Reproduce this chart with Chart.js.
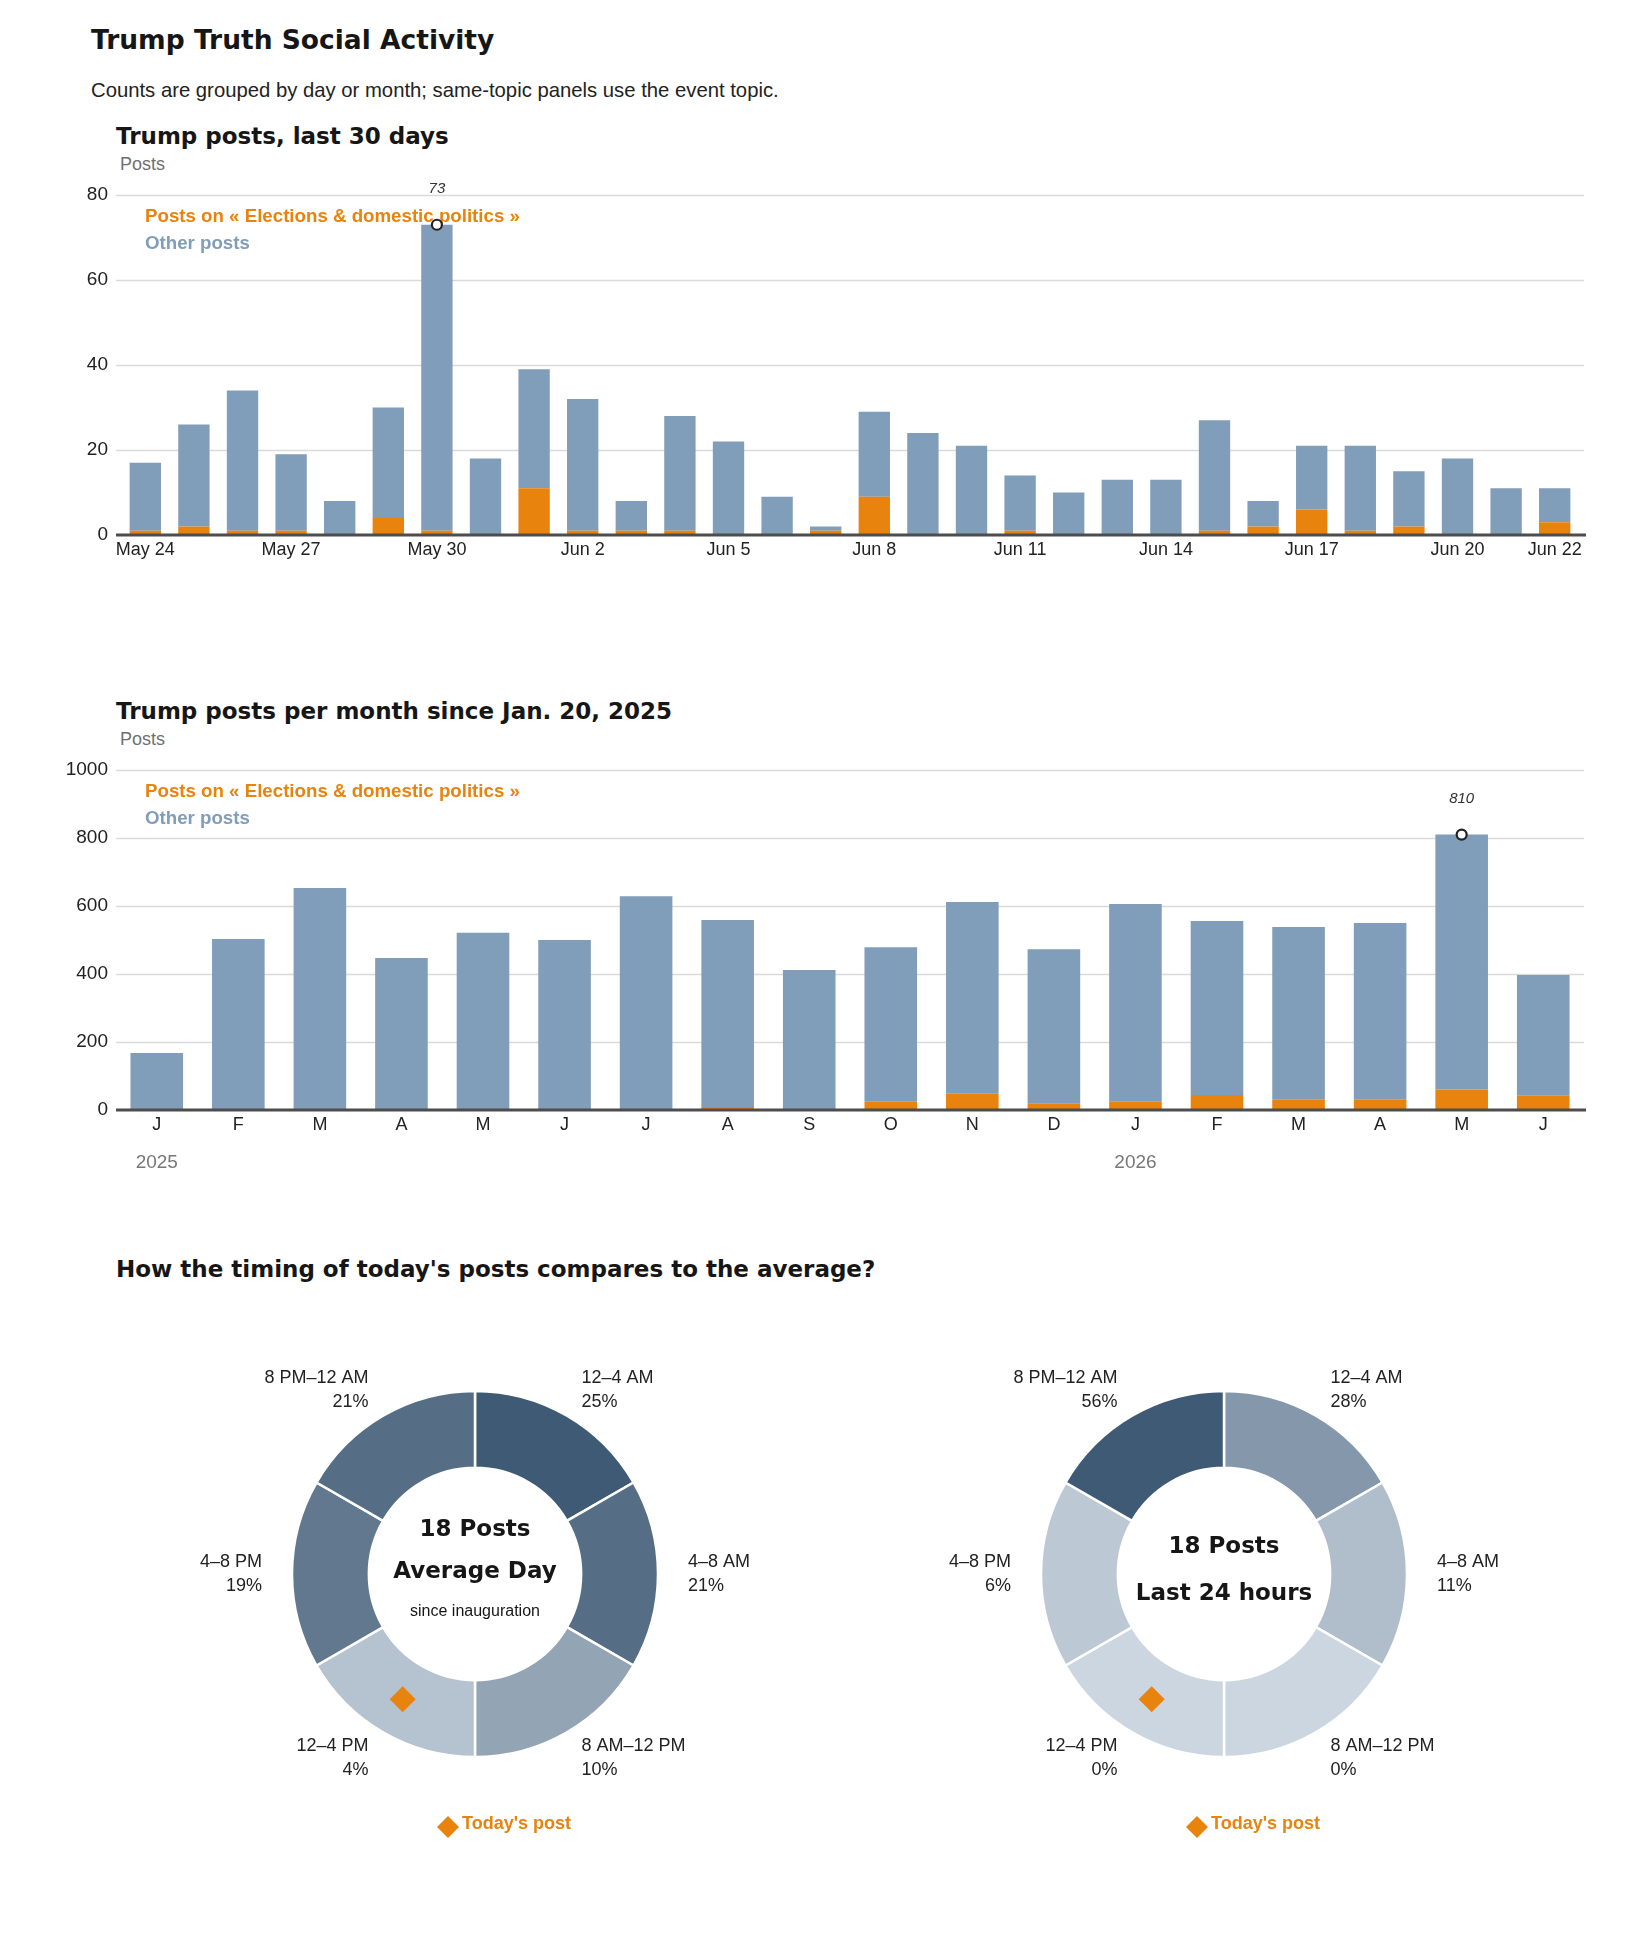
<!DOCTYPE html>
<html>
<head>
<meta charset="utf-8">
<title>Trump Truth Social Activity</title>
<script src="https://cdn.jsdelivr.net/npm/chart.js@4.4.1/dist/chart.umd.min.js"></script>
<style>
  html, body { margin: 0; padding: 0; background: #fff; }
  body { width: 1650px; height: 1950px; position: relative; overflow: hidden;
         font-family: "Liberation Sans", Arial, sans-serif; color: #1a1a1a; }
  .txt { position: absolute; white-space: nowrap; line-height: 1; margin: 0; }
  .head { font-family: "DejaVu Sans", sans-serif; font-weight: bold; color: #161616; }
  .axis-title { font-size: 18px; color: #707070; }
  canvas { position: absolute; left: 0; }
</style>
</head>
<body>

<h1 class="txt head" style="left:91px; top:27px; font-size:26.5px;">Trump Truth Social Activity</h1>
<p class="txt" style="left:91px; top:80.3px; font-size:20.3px; color:#222;">Counts are grouped by day or month; same-topic panels use the event topic.</p>

<h2 class="txt head" style="left:116px; top:124.5px; font-size:23px;">Trump posts, last 30 days</h2>
<div class="txt axis-title" style="left:120px; top:155px;">Posts</div>
<canvas id="daily" width="1650" height="400" style="top:180px;"></canvas>

<h2 class="txt head" style="left:116px; top:700px; font-size:23px;">Trump posts per month since Jan. 20, 2025</h2>
<div class="txt axis-title" style="left:120px; top:730px;">Posts</div>
<canvas id="monthly" width="1650" height="440" style="top:750px;"></canvas>

<h2 class="txt head" style="left:116px; top:1258px; font-size:23px;">How the timing of today's posts compares to the average?</h2>
<canvas id="donut-avg" width="640" height="580" style="left:155px; top:1284px;"></canvas>
<canvas id="donut-today" width="640" height="580" style="left:904px; top:1284px;"></canvas>

<script>
const TOPIC = "Elections & domestic politics";

// daily posts, last 30 days
const DAYS = ["May 24", "May 25", "May 26", "May 27", "May 28", "May 29", "May 30", "May 31",
  "Jun 1", "Jun 2", "Jun 3", "Jun 4", "Jun 5", "Jun 6", "Jun 7", "Jun 8", "Jun 9", "Jun 10",
  "Jun 11", "Jun 12", "Jun 13", "Jun 14", "Jun 15", "Jun 16", "Jun 17", "Jun 18", "Jun 19",
  "Jun 20", "Jun 21", "Jun 22"];
const DAY_TOPIC = [1, 2, 1, 1, 0, 4, 1, 0, 11, 1, 1, 1, 0, 0, 1, 9, 0, 0, 1, 0, 0, 0, 1, 2, 6, 1, 2, 0, 0, 3];
const DAY_OTHER = [16, 24, 33, 18, 8, 26, 72, 18, 28, 31, 7, 27, 22, 9, 1, 20, 24, 21, 13, 10, 13, 13, 26, 6, 15, 20, 13, 18, 11, 8];
const DAY_TICKS = [0, 20, 40, 60, 80];

// monthly posts since inauguration
const MONTHS = ["J", "F", "M", "A", "M", "J", "J", "A", "S", "O", "N", "D", "J", "F", "M", "A", "M", "J"];
const MONTH_TOPIC = [0, 0, 0, 0, 0, 0, 0, 9, 0, 24, 48, 20, 24, 44, 30, 30, 60, 42];
const MONTH_OTHER = [168, 503, 653, 447, 521, 500, 629, 550, 412, 455, 564, 453, 582, 512, 508, 520, 750, 355];
const MONTH_TICKS = [0, 200, 400, 600, 800, 1000];
const YEARS = ["2025", "2026"];
const YEAR_START = [0, 12];

// time of day
const SLOTS = ["12–4 AM", "4–8 AM", "8 AM–12 PM", "12–4 PM", "4–8 PM", "8 PM–12 AM"];
const SLOT_SPAN = [4, 4, 4, 4, 4, 4]; // hours in each slot
const AVG_PCT = [25, 21, 10, 4, 19, 21];
const LAST24_PCT = [28, 11, 0, 0, 6, 56];
const AVG_POSTS = 18;
const LAST24_POSTS = 18;
const TODAY_SLOT = 3;

const ORANGE = "#e8830e";
const BLUE = "#809db9";
const LIGHT = [203, 214, 224];
const DARK = [63, 90, 117];
const SANS = '"Liberation Sans", Arial, sans-serif';
const HEAVY = '"DejaVu Sans", sans-serif';

Chart.defaults.font.family = SANS;
Chart.defaults.color = "#222";

// grid, baseline, legend and peak marker for the bar panels
const barDecor = {
  id: "barDecor",
  beforeDatasetsDraw(chart, args, o) {
    const { ctx, chartArea: a, scales: { y } } = chart;
    ctx.save();
    ctx.strokeStyle = "#dadada";
    ctx.lineWidth = 1.3;
    y.ticks.forEach(t => {
      if (t.value === 0) return;
      const py = Math.round(y.getPixelForValue(t.value)) + 0.5;
      ctx.beginPath();
      ctx.moveTo(a.left - o.extend, py);
      ctx.lineTo(a.right + o.extend, py);
      ctx.stroke();
    });
    ctx.restore();
  },
  afterDatasetsDraw(chart, args, o) {
    const { ctx, chartArea: a, scales: { x, y } } = chart;
    ctx.save();
    const y0 = y.getPixelForValue(0);
    ctx.fillStyle = "#4d4d4d";
    ctx.fillRect(a.left - o.extend, y0 - 1.5, a.right - a.left + 2 * o.extend + 2, 3);

    ctx.font = "bold 18.7px " + SANS;
    ctx.textAlign = "left";
    ctx.textBaseline = "alphabetic";
    ctx.fillStyle = ORANGE;
    ctx.fillText("Posts on « " + TOPIC + " »", o.legendX, a.top + 27);
    ctx.fillStyle = BLUE;
    ctx.fillText("Other posts", o.legendX, a.top + 54);

    const [topic, other] = chart.data.datasets.map(d => d.data);
    const totals = topic.map((v, i) => v + other[i]);
    const peak = totals.indexOf(Math.max(...totals));
    const px = x.getPixelForValue(peak);
    const py = y.getPixelForValue(totals[peak]);
    ctx.beginPath();
    ctx.arc(px, py, 5, 0, Math.PI * 2);
    ctx.fillStyle = "#fff";
    ctx.fill();
    ctx.lineWidth = 2.2;
    ctx.strokeStyle = "#222";
    ctx.stroke();
    ctx.font = "italic 15px " + SANS;
    ctx.textAlign = "center";
    ctx.textBaseline = "middle";
    ctx.fillStyle = "#333";
    ctx.fillText(String(totals[peak]), px, py - 36);

    if (o.years) {
      ctx.font = "19px " + SANS;
      ctx.fillStyle = "#777";
      o.years.forEach((yr, k) => {
        ctx.fillText(yr, x.getPixelForValue(o.yearAt[k]), a.bottom + 53);
      });
    }
    ctx.restore();
  }
};

function barChart(id, labels, topic, other, ticks, opt) {
  return new Chart(document.getElementById(id), {
    type: "bar",
    data: {
      labels: labels,
      datasets: [
        { label: "Posts on « " + TOPIC + " »", data: topic, backgroundColor: ORANGE },
        { label: "Other posts", data: other, backgroundColor: BLUE }
      ]
    },
    options: {
      responsive: false,
      animation: false,
      events: [],
      layout: { padding: { top: opt.padTop, right: 1650 - opt.right, bottom: 0, left: 0 } },
      datasets: { bar: { categoryPercentage: 1, barPercentage: 0.645 } },
      scales: {
        x: {
          stacked: true,
          grid: { display: false, drawTicks: false },
          border: { display: false },
          ticks: {
            autoSkip: false,
            maxRotation: 0,
            padding: 4,
            font: { size: 18 },
            color: "#222",
            callback: opt.tickLabel
          },
          afterFit(s) { s.height = opt.xHeight; s.paddingLeft = 0; s.paddingRight = 0; }
        },
        y: {
          stacked: true,
          min: 0,
          max: ticks[ticks.length - 1],
          afterBuildTicks(s) { s.ticks = ticks.map(v => ({ value: v })); },
          grid: { display: false, drawTicks: false },
          border: { display: false },
          ticks: {
            padding: opt.left - 108,
            font: { size: 19 },
            color: "#222",
            callback: v => String(v)
          },
          afterFit(s) { s.width = opt.left; s.paddingTop = 0; s.paddingBottom = 0; }
        }
      },
      plugins: {
        legend: { display: false },
        tooltip: { enabled: false },
        barDecor: { extend: opt.extend, legendX: 145, years: opt.years, yearAt: opt.yearAt }
      }
    },
    plugins: [barDecor]
  });
}

barChart("daily", DAYS, DAY_TOPIC, DAY_OTHER, DAY_TICKS, {
  padTop: 15, left: 121, right: 1579, xHeight: 45, extend: 5,
  tickLabel(v, i) { return (i % 3 === 0 || i === DAYS.length - 1) ? DAYS[i] : null; }
});

barChart("monthly", MONTHS, MONTH_TOPIC, MONTH_OTHER, MONTH_TICKS, {
  padTop: 20, left: 116, right: 1584, xHeight: 80, extend: 0,
  years: YEARS, yearAt: YEAR_START,
  tickLabel(v, i) { return MONTHS[i]; }
});

// donuts: six four-hour slots, shaded by share of posts
function slotColors(pcts) {
  const max = Math.max(...pcts);
  return pcts.map(p => {
    const t = max ? p / max : 0;
    const c = LIGHT.map((l, k) => Math.round(l + (DARK[k] - l) * t));
    return "rgb(" + c.join(",") + ")";
  });
}

function diamond(ctx, x, y, h) {
  ctx.beginPath();
  ctx.moveTo(x, y - h);
  ctx.lineTo(x + h, y);
  ctx.lineTo(x, y + h);
  ctx.lineTo(x - h, y);
  ctx.closePath();
  ctx.fill();
}

const donutDecor = {
  id: "donutDecor",
  afterDatasetsDraw(chart, args, o) {
    const { ctx } = chart;
    const meta = chart.getDatasetMeta(0);
    const pcts = chart.data.datasets[0].pct;
    const cx = meta.data[0].x, cy = meta.data[0].y;
    const rMid = (meta.data[0].outerRadius + meta.data[0].innerRadius) / 2;
    ctx.save();

    ctx.font = "18px " + SANS;
    ctx.fillStyle = "#222";
    ctx.textBaseline = "middle";
    meta.data.forEach((el, i) => {
      const mid = (el.startAngle + el.endAngle) / 2;
      const lx = cx + 213 * Math.cos(mid);
      const ly = cy + 213 * Math.sin(mid);
      ctx.textAlign = Math.cos(mid) > 0 ? "left" : "right";
      ctx.fillText(chart.data.labels[i], lx, ly - 12);
      ctx.fillText(pcts[i] + "%", lx, ly + 12);
    });

    const t = meta.data[TODAY_SLOT];
    const tMid = (t.startAngle + t.endAngle) / 2;
    ctx.fillStyle = ORANGE;
    diamond(ctx, cx + rMid * Math.cos(tMid), cy + rMid * Math.sin(tMid), 13);

    ctx.textAlign = "center";
    o.lines.forEach(l => {
      ctx.font = l.font;
      ctx.fillStyle = "#161616";
      ctx.fillText(l.text, cx, cy + l.dy);
    });

    ctx.fillStyle = ORANGE;
    diamond(ctx, cx - 27, cy + 253, 11);
    ctx.font = "bold 18px " + SANS;
    ctx.textAlign = "left";
    ctx.fillText("Today's post", cx - 13, cy + 250);
    ctx.restore();
  }
};

function donut(id, pcts, lines) {
  return new Chart(document.getElementById(id), {
    type: "doughnut",
    data: {
      labels: SLOTS,
      datasets: [{
        data: SLOT_SPAN,
        pct: pcts,
        backgroundColor: slotColors(pcts),
        borderColor: "#fff",
        borderWidth: 2.5
      }]
    },
    options: {
      responsive: false,
      animation: false,
      events: [],
      radius: 183,
      cutout: "58%",
      layout: { padding: 0 },
      plugins: {
        legend: { display: false },
        tooltip: { enabled: false },
        donutDecor: { lines: lines }
      }
    },
    plugins: [donutDecor]
  });
}

donut("donut-avg", AVG_PCT, [
  { text: AVG_POSTS + " Posts", font: "bold 23px " + HEAVY, dy: -44 },
  { text: "Average Day", font: "bold 23px " + HEAVY, dy: -1.5 },
  { text: "since inauguration", font: "16px " + SANS, dy: 38 }
]);

donut("donut-today", LAST24_PCT, [
  { text: LAST24_POSTS + " Posts", font: "bold 23px " + HEAVY, dy: -27 },
  { text: "Last 24 hours", font: "bold 23px " + HEAVY, dy: 20 }
]);
</script>
</body>
</html>
